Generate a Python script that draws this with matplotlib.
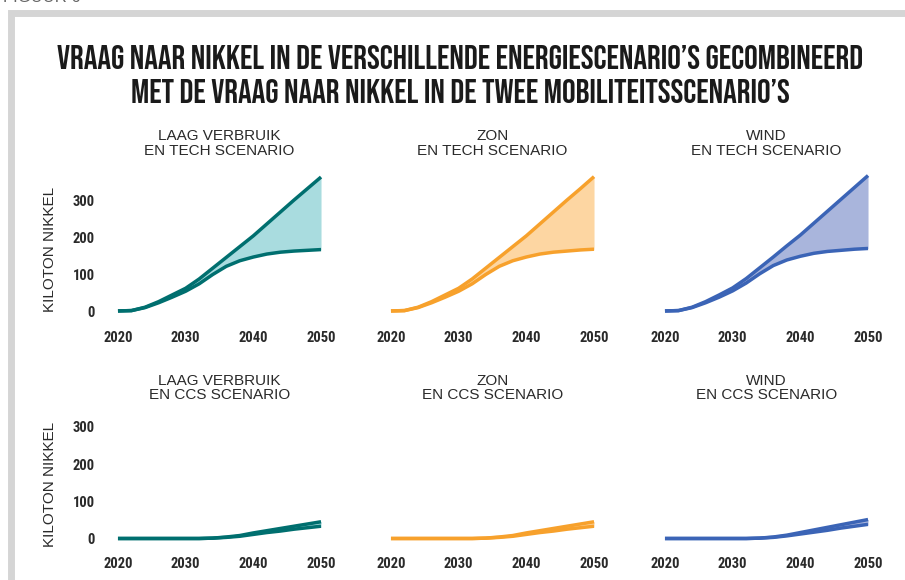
import matplotlib
matplotlib.use("Agg")
import matplotlib.pyplot as plt
from matplotlib.patches import Rectangle

# data (kiloton nikkel)
years = [2020, 2022, 2024, 2026, 2028, 2030, 2032, 2034, 2036, 2038, 2040, 2042, 2044, 2046, 2048, 2050]

tech_high = {
    "laag": [2, 3, 12, 27, 45, 63, 88, 117, 146, 175, 204, 236, 268, 300, 331, 362],
    "zon":  [2, 3, 12, 27, 45, 63, 88, 117, 146, 175, 204, 236, 268, 300, 331, 363],
    "wind": [2, 3, 12, 27, 45, 64, 89, 118, 147, 177, 206, 238, 270, 302, 334, 366],
}
tech_low = {
    "laag": [2, 3, 11, 24, 39, 55, 75, 100, 122, 137, 147, 155, 160, 163, 165, 167],
    "zon":  [2, 3, 11, 24, 39, 55, 75, 100, 122, 137, 147, 155, 160, 163, 166, 168],
    "wind": [2, 3, 11, 24, 39, 56, 77, 102, 124, 139, 149, 157, 162, 165, 168, 170],
}
ccs_high = {
    "laag": [0, 0, 0, 0, 0, 0, 0, 1, 4, 8, 15, 21, 27, 33, 39, 45],
    "zon":  [0, 0, 0, 0, 0, 0, 0, 1, 4, 8, 15, 21, 27, 33, 39, 45],
    "wind": [0, 0, 0, 0, 0, 0, 0, 1, 4, 9, 16, 23, 30, 37, 44, 51],
}
ccs_low = {
    "laag": [0, 0, 0, 0, 0, 0, 0, 1, 3, 6, 11, 16, 20, 25, 29, 33],
    "zon":  [0, 0, 0, 0, 0, 0, 0, 1, 3, 6, 11, 16, 20, 25, 29, 33],
    "wind": [0, 0, 0, 0, 0, 0, 0, 1, 3, 7, 12, 17, 22, 28, 33, 38],
}

keys = ["laag", "zon", "wind"]
top_titles = ["LAAG VERBRUIK\nEN TECH SCENARIO", "ZON\nEN TECH SCENARIO", "WIND\nEN TECH SCENARIO"]
bottom_titles = ["LAAG VERBRUIK\nEN CCS SCENARIO", "ZON\nEN CCS SCENARIO", "WIND\nEN CCS SCENARIO"]
line_colors = {"laag": "#006f6f", "zon": "#f7a12c", "wind": "#3b64b6"}
fill_colors = {"laag": "#a9dcdf", "zon": "#fdd6a2", "wind": "#a9b5dc"}

xticks = [2020, 2030, 2040, 2050]
yticks = [0, 100, 200, 300]

title_lines = ["VRAAG NAAR NIKKEL IN DE VERSCHILLENDE ENERGIESCENARIO’S GECOMBINEERD",
               "MET DE VRAAG NAAR NIKKEL IN DE TWEE MOBILITEITSSCENARIO’S"]

W, H = 905, 580
fig = plt.figure(figsize=(W / 100, H / 100), dpi=100)

head_font = ["Bebas Neue", "Oswald", "Barlow Condensed", "Liberation Sans"]
tick_font = ["Roboto Condensed", "Archivo Narrow", "Barlow Condensed", "Liberation Sans"]
body_font = ["Liberation Sans", "DejaVu Sans"]

# grey frame and cut-off figure label
fig.patches.append(Rectangle((11 / W, -0.1), 1.2, (H - 13.5) / H + 0.1, transform=fig.transFigure,
                             fill=False, ec="#d5d5d5", lw=5))
fig.text(3 / W, 1 - (-3) / H, "FIGUUR 6", fontsize=12, color="#666666", va="center", ha="left",
         family=body_font)

fig.text(460 / W, 1 - 57 / H, title_lines[0], ha="center", va="center", fontsize=24.6,
         family=head_font, color="#1a1a1a")
fig.text(460 / W, 1 - 91 / H, title_lines[1], ha="center", va="center", fontsize=24.6,
         family=head_font, color="#1a1a1a")

ax_left = [111.2, 384.2, 658.2]
ax_w = 216.6
ylo, yhi = -10, 380
scale = 0.372
# zero line px, subtitle px, ylabel centre px
rows = [(311.7, 143.5, 249, tech_high, tech_low, top_titles),
        (538.5, 388, 484, ccs_high, ccs_low, bottom_titles)]

for zero_y, title_y, label_y, hi, lo, titles in rows:
    bottom_px = zero_y - ylo * scale
    top_px = zero_y - yhi * scale
    for i, k in enumerate(keys):
        ax = fig.add_axes([ax_left[i] / W, 1 - bottom_px / H, ax_w / W, (bottom_px - top_px) / H])
        ax.fill_between(years, lo[k], hi[k], color=fill_colors[k], lw=0)
        ax.plot(years, lo[k], color=line_colors[k], lw=2.5, solid_capstyle="butt", clip_on=False)
        ax.plot(years, hi[k], color=line_colors[k], lw=2.5, solid_capstyle="butt", clip_on=False)
        ax.set_xlim(2019, 2051)
        ax.set_ylim(ylo, yhi)
        ax.patch.set_visible(False)
        for s in ax.spines.values():
            s.set_visible(False)
        ax.set_xticks(xticks)
        ax.set_xticklabels([str(t) for t in xticks], family=tick_font, fontweight="bold",
                           fontsize=10.5, color="#2a2a2a")
        ax.tick_params(axis="both", length=0)
        ax.tick_params(axis="x", pad=11)
        if i == 0:
            ax.set_yticks(yticks)
            ax.set_yticklabels([str(t) for t in yticks], family=tick_font, fontweight="bold",
                               fontsize=10.5, color="#2a2a2a")
            ax.tick_params(axis="y", pad=12)
            ax.set_ylabel("KILOTON NIKKEL", fontsize=11, color="#2a2a2a", family=body_font,
                          va="center")
            ax.yaxis.set_label_coords((50 - ax_left[i]) / ax_w,
                                      (bottom_px - label_y) / (bottom_px - top_px))
        else:
            ax.set_yticks([])
        fig.text((ax_left[i] + ax_w / 2) / W, 1 - title_y / H, titles[i], ha="center", va="center",
                 fontsize=11, color="#2a2a2a", family=body_font, linespacing=1.05)

fig.savefig("out.png", dpi=100)
